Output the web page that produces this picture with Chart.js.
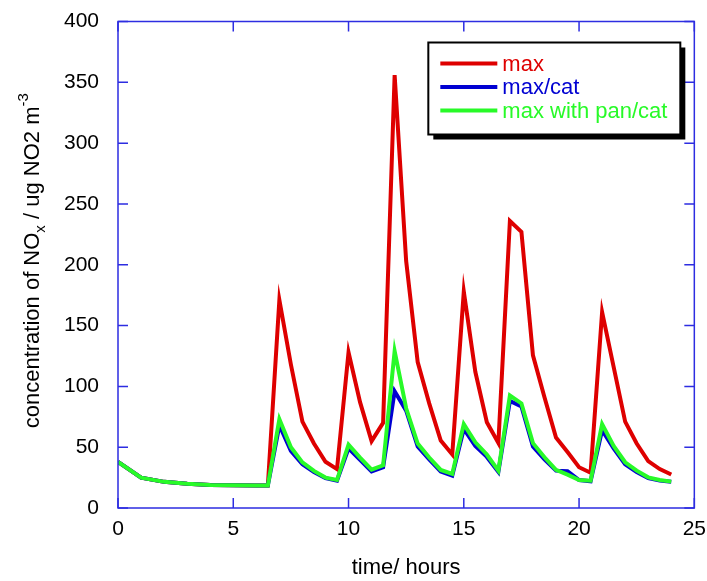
<!DOCTYPE html>
<html>
<head>
<meta charset="utf-8">
<script src="https://cdn.jsdelivr.net/npm/chart.js@4"></script>
<style>
  body { margin: 0; background: #fff; }
</style>
</head>
<body>
<canvas id="noxChart" width="707" height="581"></canvas>
<script>
// time axis (hours)
const times = [0, 1, 2, 3, 4, 5, 6, 6.5,
    7, 7.5, 8, 8.5, 9, 9.5, 10, 10.5, 11, 11.5,
    12, 12.5, 13, 13.5, 14, 14.5, 15, 15.5, 16, 16.5,
    17, 17.5, 18, 18.5, 19, 19.5, 20, 20.5,
    21, 21.5, 22, 22.5, 23, 23.5, 24];

const maxValues = [38, 25, 21.5, 20, 19, 18.7, 18.5, 18.5,
    171, 118, 71, 53, 38, 32, 128, 87, 55, 70,
    356, 203, 120, 86, 55.5, 44, 178, 112, 70.5, 53.5,
    236, 227, 125.5, 91, 58, 46, 33.5, 29,
    161, 116, 71, 53, 38.5, 32, 27.5];

const maxCatValues = [38, 25, 21.5, 20, 19, 18.7, 18.5, 18.5,
    68, 47, 36, 29.5, 24.5, 22.5, 49, 39.5, 30, 33.5,
    96, 80, 50.5, 40, 30, 26.6, 65, 51, 42, 29.7,
    88, 83.5, 50.5, 40, 30.7, 30.2, 23, 22,
    64, 49, 36, 29.5, 24.5, 22.5, 21.5];

const maxPanCatValues = [38, 25, 21.5, 20, 19, 18.7, 18.5, 18.5,
    73, 50, 37.5, 30.5, 25, 23, 52, 41.5, 31.5, 35,
    129, 82, 53, 41.5, 31.3, 28, 69, 54, 44, 30.7,
    92.5, 86, 53.3, 41.7, 31.3, 27.4, 23, 22.5,
    69, 51, 37.6, 30.7, 25.2, 23, 21.7];

const seriesNames = ['max', 'max/cat', 'max with pan/cat'];
const seriesColors = ['rgb(222,0,0)', 'rgb(0,0,210)', 'rgb(40,250,40)'];

const xTicks = [0, 5, 10, 15, 20, 25];
const yTicks = [0, 50, 100, 150, 200, 250, 300, 350, 400];

const FONT = "'Liberation Sans', Arial, sans-serif";
const FRAME = 'rgb(45,45,225)';

function toPoints(vals) {
    return times.map((t, i) => ({ x: t, y: vals[i] }));
}

// frame with inward ticks, y title with sub/superscript, boxed legend
const decorations = {
    id: 'decorations',
    afterDraw(chart) {
        const ctx = chart.ctx;
        const a = chart.chartArea;
        const xs = chart.scales.x, ys = chart.scales.y;
        const tl = 10;

        ctx.save();
        ctx.strokeStyle = FRAME;
        ctx.lineWidth = 1.5;
        ctx.strokeRect(a.left, a.top, a.right - a.left, a.bottom - a.top);
        ctx.beginPath();
        xTicks.forEach(v => {
            const px = xs.getPixelForValue(v);
            ctx.moveTo(px, a.bottom); ctx.lineTo(px, a.bottom - tl);
            ctx.moveTo(px, a.top); ctx.lineTo(px, a.top + tl);
        });
        yTicks.forEach(v => {
            const py = ys.getPixelForValue(v);
            ctx.moveTo(a.left, py); ctx.lineTo(a.left + tl, py);
            ctx.moveTo(a.right, py); ctx.lineTo(a.right - tl, py);
        });
        ctx.stroke();
        ctx.restore();

        // y axis title
        const parts = [
            ['concentration of NO', 22, 0],
            ['x', 15, 6],
            [' / ug NO2 m', 22, 0],
            ['-3', 15, -11]
        ];
        ctx.save();
        let total = 0;
        parts.forEach(p => { ctx.font = p[1] + 'px ' + FONT; total += ctx.measureText(p[0]).width; });
        ctx.translate(39, (a.top + a.bottom) / 2 - 4);
        ctx.rotate(-Math.PI / 2);
        ctx.fillStyle = '#000';
        ctx.textBaseline = 'alphabetic';
        let cx = -total / 2;
        parts.forEach(p => {
            ctx.font = p[1] + 'px ' + FONT;
            ctx.fillText(p[0], cx, p[2]);
            cx += ctx.measureText(p[0]).width;
        });
        ctx.restore();

        // legend
        const bx = a.right - 266, by = a.top + 21, bw = 252, bh = 92;
        ctx.save();
        ctx.fillStyle = '#000';
        ctx.fillRect(bx + 5, by + 5, bw, bh);
        ctx.fillStyle = '#fff';
        ctx.fillRect(bx, by, bw, bh);
        ctx.strokeStyle = '#000';
        ctx.lineWidth = 2;
        ctx.strokeRect(bx, by, bw, bh);
        ctx.font = '22px ' + FONT;
        ctx.textBaseline = 'middle';
        seriesNames.forEach((name, i) => {
            const ly = by + 21 + i * 23.5;
            ctx.strokeStyle = seriesColors[i];
            ctx.lineWidth = 4;
            ctx.beginPath();
            ctx.moveTo(bx + 12, ly); ctx.lineTo(bx + 69, ly);
            ctx.stroke();
            ctx.fillStyle = seriesColors[i];
            ctx.fillText(name, bx + 74, ly + 1);
        });
        ctx.restore();
    }
};

const ctx = document.getElementById('noxChart').getContext('2d');
const noxChart = new Chart(ctx, {
    type: 'line',
    data: {
        datasets: [
            { label: seriesNames[0], data: toPoints(maxValues), borderColor: seriesColors[0], order: 3 },
            { label: seriesNames[1], data: toPoints(maxCatValues), borderColor: seriesColors[1], order: 2 },
            { label: seriesNames[2], data: toPoints(maxPanCatValues), borderColor: seriesColors[2], order: 1 }
        ]
    },
    options: {
        responsive: false,
        animation: false,
        layout: { padding: { top: 7.5, right: 6, left: 0, bottom: 0 } },
        elements: {
            line: { borderWidth: 4, tension: 0, fill: false },
            point: { radius: 0, hoverRadius: 0 }
        },
        plugins: {
            legend: { display: false },
            tooltip: { enabled: false }
        },
        scales: {
            x: {
                type: 'linear',
                min: 0,
                max: 25,
                grid: { display: false },
                border: { display: false },
                afterBuildTicks: s => { s.ticks = xTicks.map(v => ({ value: v })); },
                afterFit: s => { s.height = 73; },
                ticks: { color: '#000', font: { family: FONT, size: 21 }, padding: 1, maxRotation: 0 },
                title: {
                    display: true,
                    text: 'time/ hours',
                    color: '#000',
                    font: { family: FONT, size: 22 },
                    padding: { top: 0, bottom: 0 }
                }
            },
            y: {
                min: 0,
                max: 400,
                grid: { display: false },
                border: { display: false },
                afterBuildTicks: s => { s.ticks = yTicks.map(v => ({ value: v })); },
                afterFit: s => { s.width = 118; },
                ticks: { color: '#000', font: { family: FONT, size: 21, lineHeight: 1 }, padding: 11 }
            }
        }
    },
    plugins: [decorations]
});
</script>
</body>
</html>
